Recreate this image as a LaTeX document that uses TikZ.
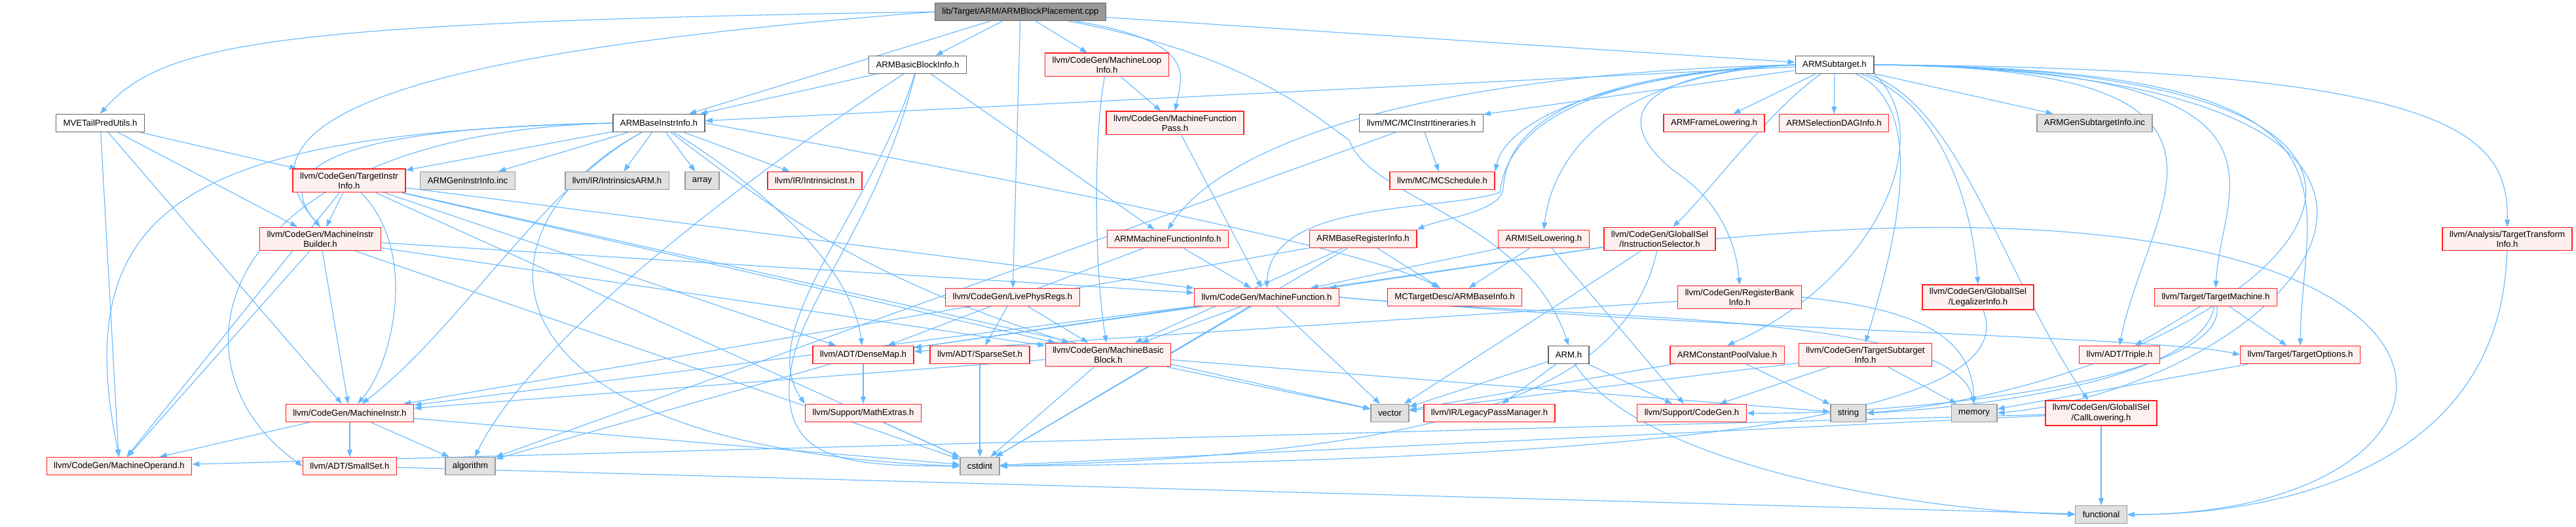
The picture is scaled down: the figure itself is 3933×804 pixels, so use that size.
\documentclass[tikz,border=0pt]{standalone}
\usepackage{fontspec}
\setmainfont{Liberation Sans}
\usepackage{xcolor}
\usepackage{tikz}
\usetikzlibrary{arrows.meta, backgrounds}
\definecolor{edgeblue}{HTML}{63B8FF}
\definecolor{rootfill}{HTML}{999999}
\definecolor{darkline}{HTML}{666666}
\definecolor{sysfill}{HTML}{E0E0E0}
\definecolor{sysline}{HTML}{999999}
\definecolor{redfill}{HTML}{FFF0F0}
\definecolor{redline}{HTML}{FF2020}
\tikzset{
    baseblock/.style={rectangle, align=center, font=\fontsize{13.2}{15.3}\selectfont, inner xsep=11pt, inner ysep=5.3pt, minimum height=27pt, line width=1.4pt},
    rootblock/.style={baseblock, draw=darkline, fill=rootfill},
    fileblock/.style={baseblock, draw=darkline, fill=white},
    redblock/.style={baseblock, draw=redline, fill=redfill},
    sysblock/.style={baseblock, draw=sysline, fill=sysfill},
    arrow/.style={line width=1.1pt, color=edgeblue, -{Triangle[length=11pt, width=8pt]}}
}

\begin{document}
\begin{tikzpicture}[x=1pt, y=1pt]
    \useasboundingbox (0,0) rectangle (3933,804);

    % row 1 and 2
    \node (placement) [rootblock] at (1558,786) {lib/Target/ARM/ARMBlockPlacement.cpp};
    \node (bbinfo) [fileblock] at (1401,705) {ARMBasicBlockInfo.h};
    \node (loopinfo) [redblock] at (1690,705) {llvm/CodeGen/MachineLoop\\Info.h};
    \node (subtarget) [fileblock] at (2801,705) {ARMSubtarget.h};

    % row 3
    \node (mveutils) [fileblock] at (153,616) {MVETailPredUtils.h};
    \node (baseinstr) [fileblock] at (1006,616) {ARMBaseInstrInfo.h};
    \node (mfpass) [redblock] at (1794,616) {llvm/CodeGen/MachineFunction\\Pass.h};
    \node (itin) [fileblock] at (2170,616) {llvm/MC/MCInstrItineraries.h};
    \node (framelow) [redblock] at (2617,616) {ARMFrameLowering.h};
    \node (seldag) [redblock] at (2800,616) {ARMSelectionDAGInfo.h};
    \node (gensub) [sysblock] at (3198,616) {ARMGenSubtargetInfo.inc};

    % row 4
    \node (tii) [redblock] at (533,528) {llvm/CodeGen/TargetInstr\\Info.h};
    \node (geninstr) [sysblock] at (714,528) {ARMGenInstrInfo.inc};
    \node (intrarm) [sysblock] at (942,528) {llvm/IR/IntrinsicsARM.h};
    \node (array) [sysblock] at (1072,528) {array};
    \node (intrinst) [redblock] at (1244,528) {llvm/IR/IntrinsicInst.h};
    \node (sched) [redblock] at (2202,528) {llvm/MC/MCSchedule.h};

    % row 5
    \node (mib) [redblock] at (489,439) {llvm/CodeGen/MachineInstr\\Builder.h};
    \node (mfi) [redblock] at (1783,439) {ARMMachineFunctionInfo.h};
    \node (bri) [redblock] at (2081,439) {ARMBaseRegisterInfo.h};
    \node (isel) [redblock] at (2357,439) {ARMISelLowering.h};
    \node (instsel) [redblock] at (2534,439) {llvm/CodeGen/GlobalISel\\/InstructionSelector.h};
    \node (tti) [redblock] at (3828,439) {llvm/Analysis/TargetTransform\\Info.h};

    % row 6
    \node (livephys) [redblock] at (1546,350) {llvm/CodeGen/LivePhysRegs.h};
    \node (mf) [redblock] at (1934,350) {llvm/CodeGen/MachineFunction.h};
    \node (basinfo) [redblock] at (2221,350) {MCTargetDesc/ARMBaseInfo.h};
    \node (rbi) [redblock] at (2656,350) {llvm/CodeGen/RegisterBank\\Info.h};
    \node (legal) [redblock] at (3020,350) {llvm/CodeGen/GlobalISel\\/LegalizerInfo.h};
    \node (tm) [redblock] at (3383,350) {llvm/Target/TargetMachine.h};

    % row 7
    \node (densemap) [redblock] at (1318,262) {llvm/ADT/DenseMap.h};
    \node (sparse) [redblock] at (1496,262) {llvm/ADT/SparseSet.h};
    \node (mbb) [redblock] at (1692,262) {llvm/CodeGen/MachineBasic\\Block.h};
    \node (armh) [fileblock] at (2395,262) {ARM.h};
    \node (cpv) [redblock] at (2637,262) {ARMConstantPoolValue.h};
    \node (tsi) [redblock] at (2848,262) {llvm/CodeGen/TargetSubtarget\\Info.h};
    \node (triple) [redblock] at (3236,262) {llvm/ADT/Triple.h};
    \node (topts) [redblock] at (3512,262) {llvm/Target/TargetOptions.h};

    % row 8
    \node (minstr) [redblock] at (534,173) {llvm/CodeGen/MachineInstr.h};
    \node (mathext) [redblock] at (1318,173) {llvm/Support/MathExtras.h};
    \node (vector) [sysblock] at (2122,173) {vector};
    \node (legacy) [redblock] at (2274,173) {llvm/IR/LegacyPassManager.h};
    \node (cgh) [redblock] at (2583,173) {llvm/Support/CodeGen.h};
    \node (string) [sysblock] at (2822,173) {string};
    \node (memory) [sysblock] at (3014,173) {memory};
    \node (calllow) [redblock] at (3208,173) {llvm/CodeGen/GlobalISel\\/CallLowering.h};

    % row 9 and 10
    \node (moperand) [redblock] at (182,92) {llvm/CodeGen/MachineOperand.h};
    \node (smallset) [redblock] at (534,92) {llvm/ADT/SmallSet.h};
    \node (algorithm) [sysblock] at (718,92) {algorithm};
    \node (cstdint) [sysblock] at (1496,92) {cstdint};
    \node (functional) [sysblock] at (3208,18) {functional};

    \begin{scope}[on background layer]
    \fill [white] (0,0) rectangle (3933,804);

    % ARMBlockPlacement.cpp
    \draw [arrow] (placement.west) .. controls (420,770) and (250,740) .. (mveutils.north);
    \draw [arrow] (placement) -- (baseinstr);
    \draw [arrow] (placement) -- (bbinfo);
    \draw [arrow] (placement) -- (loopinfo);
    \draw [arrow] (placement) .. controls (1830,740) and (1805,690) .. (mfpass.north);
    \draw [arrow] (placement) -- (subtarget);
    \draw [arrow] (placement) .. controls (1900,720) and (1990,640) .. (2060,590) .. controls (2090,500) and (2330,470) .. (armh.north);
    \draw [arrow] (placement) -- (livephys);
    \draw [arrow] (placement.west) .. controls (700,730) and (330,640) .. (mib.north);

    % MVETailPredUtils.h
    \draw [arrow] (mveutils) -- (tii);
    \draw [arrow] (mveutils) -- (mib);
    \draw [arrow] (mveutils) -- (minstr);
    \draw [arrow] (mveutils) -- (moperand);

    % ARMBaseInstrInfo.h
    \draw [arrow] (baseinstr) -- (tii);
    \draw [arrow] (baseinstr) -- (geninstr);
    \draw [arrow] (baseinstr) -- (intrarm);
    \draw [arrow] (baseinstr) -- (array);
    \draw [arrow] (baseinstr) -- (intrinst);
    \draw [arrow] (baseinstr.west) .. controls (560,610) and (400,560) .. (mib.north);
    \draw [arrow] (baseinstr) .. controls (830,520) and (700,300) .. (minstr);
    \draw [arrow] (baseinstr.west) .. controls (300,600) and (100,500) .. (moperand.north);
    \draw [arrow] (baseinstr.west) .. controls (330,600) and (240,250) .. (smallset.west);
    \draw [arrow] (baseinstr) .. controls (1160,520) and (1300,400) .. (densemap);
    \draw [arrow] (baseinstr) to[bend right=10] (mbb);
    \draw [arrow] (baseinstr.east) .. controls (1600,520) and (2100,420) .. (basinfo);
    \draw [arrow] (baseinstr) .. controls (700,450) and (720,120) .. (cstdint.west);

    % ARMBasicBlockInfo.h
    \draw [arrow] (bbinfo) -- (baseinstr);
    \draw [arrow] (bbinfo) -- (mfi);
    \draw [arrow] (bbinfo) .. controls (1330,480) and (1150,300) .. (mathext.north west);
    \draw [arrow] (bbinfo) .. controls (1180,560) and (820,300) .. (algorithm);
    \draw [arrow] (bbinfo) .. controls (1330,430) and (1200,330) .. (1205,200) .. controls (1210,100) and (1300,92) .. (cstdint.west);

    % MachineLoopInfo.h, MachineFunctionPass.h
    \draw [arrow] (loopinfo) -- (mfpass);
    \draw [arrow] (loopinfo) .. controls (1670,600) and (1670,400) .. (mbb);
    \draw [arrow] (mfpass) -- (mf);

    % ARMSubtarget.h
    \draw [arrow] (subtarget) -- (baseinstr);
    \draw [arrow] (subtarget.west) .. controls (2380,690) and (2300,600) .. (2295,515) .. controls (2290,480) and (2200,470) .. (bri.north east);
    \draw [arrow] (subtarget.south east) .. controls (2960,600) and (2870,380) .. (cpv.north);
    \draw [arrow] (subtarget) -- (framelow);
    \draw [arrow] (subtarget.west) .. controls (2450,690) and (2370,560) .. (isel.north);
    \draw [arrow] (subtarget.west) .. controls (2100,690) and (1850,560) .. (mfi.north);
    \draw [arrow] (subtarget) -- (seldag);
    \draw [arrow] (subtarget.east) .. controls (3750,700) and (3830,600) .. (tti.north);
    \draw [arrow] (subtarget) .. controls (2990,650) and (3060,380) .. (calllow.135);
    \draw [arrow] (subtarget) .. controls (2705,640) and (2600,500) .. (instsel);
    \draw [arrow] (subtarget) .. controls (2960,650) and (3010,500) .. (legal.north);
    \draw [arrow] (subtarget.west) .. controls (2400,690) and (2300,600) .. (2290,510) .. controls (2200,480) and (1940,500) .. (mf.north);
    \draw [arrow] (subtarget.west) .. controls (2450,690) and (2480,600) .. (2560,540) .. controls (2620,500) and (2650,440) .. (rbi.north);
    \draw [arrow] (subtarget) .. controls (2950,640) and (2890,420) .. (tsi.north);
    \draw [arrow] (subtarget) -- (itin);
    \draw [arrow] (subtarget.west) .. controls (2450,690) and (2300,620) .. (sched.north east);
    \draw [arrow] (subtarget.east) .. controls (3550,700) and (3390,520) .. (tm.north);
    \draw [arrow] (subtarget.east) .. controls (3650,700) and (3515,520) .. (topts.north);
    \draw [arrow] (subtarget.east) .. controls (3500,700) and (3280,500) .. (triple.north);
    \draw [arrow] (subtarget.east) .. controls (3950,690) and (3500,215) .. (memory.east);
    \draw [arrow] (subtarget.east) .. controls (3990,700) and (3450,225) .. (string.east);
    \draw [arrow] (subtarget) -- (gensub);

    % MCInstrItineraries.h
    \draw [arrow] (itin) -- (sched);
    \draw [arrow] (itin) -- (algorithm);

    % TargetInstrInfo.h
    \draw [arrow] (tii) -- (mib);
    \draw [arrow] (tii) .. controls (640,420) and (600,250) .. (minstr);
    \draw [arrow] (tii) -- (moperand);
    \draw [arrow] (tii) -- (densemap);
    \draw [arrow] (tii) -- (mbb);
    \draw [arrow] (tii) -- (mf);
    \draw [arrow] (tii) -- (cstdint);
    \draw [arrow] (tii) -- (vector);

    % MachineInstrBuilder.h
    \draw [arrow] (mib) -- (mbb);
    \draw [arrow] (mib) -- (mf);
    \draw [arrow] (mib) -- (minstr);
    \draw [arrow] (mib) -- (moperand);
    \draw [arrow] (mib) -- (cstdint);

    % ARMMachineFunctionInfo.h, ARMBaseRegisterInfo.h, ARMISelLowering.h
    \draw [arrow] (mfi) -- (densemap);
    \draw [arrow] (mfi) -- (mf);
    \draw [arrow] (bri) -- (basinfo);
    \draw [arrow] (bri) -- (mbb);
    \draw [arrow] (bri) -- (minstr);
    \draw [arrow] (bri) -- (cstdint);
    \draw [arrow] (isel) -- (basinfo);
    \draw [arrow] (isel) -- (mf);
    \draw [arrow] (isel) -- (cgh);

    % InstructionSelector.h, TargetTransformInfo.h
    \draw [arrow] (instsel) -- (densemap);
    \draw [arrow] (instsel) -- (mf);
    \draw [arrow] (instsel) .. controls (2480,200) and (2200,110) .. (cstdint.east);
    \draw [arrow] (instsel.east) .. controls (3900,560) and (3850,18) .. (functional.east);
    \draw [arrow] (instsel) -- (vector);
    \draw [arrow] (tti) .. controls (3820,100) and (3500,18) .. (functional.east);

    % LivePhysRegs.h, MachineFunction.h
    \draw [arrow] (livephys) -- (mbb);
    \draw [arrow] (livephys) -- (sparse);
    \draw [arrow] (mf) -- (densemap);
    \draw [arrow] (mf) -- (mbb);
    \draw [arrow] (mf) -- (minstr);
    \draw [arrow] (mf.east) .. controls (2600,300) and (3300,290) .. (topts.west);
    \draw [arrow] (mf) -- (cstdint);
    \draw [arrow] (mf.east) .. controls (2400,315) and (2980,330) .. (memory.north);
    \draw [arrow] (mf) -- (vector);

    % RegisterBankInfo.h, LegalizerInfo.h, TargetMachine.h, TargetOptions.h
    \draw [arrow] (rbi) -- (densemap);
    \draw [arrow] (rbi.east) .. controls (2950,330) and (3010,280) .. (memory.north);
    \draw [arrow] (legal) .. controls (3100,150) and (2400,100) .. (cstdint.east);
    \draw [arrow] (tm) -- (triple);
    \draw [arrow] (tm) -- (topts);
    \draw [arrow] (tm) .. controls (3400,220) and (2900,170) .. (cgh.east);
    \draw [arrow] (tm) .. controls (3360,220) and (3000,180) .. (string.east);
    \draw [arrow] (topts) -- (memory);

    % ARMConstantPoolValue.h, TargetSubtargetInfo.h, ARM.h
    \draw [arrow] (cpv) -- (vector);
    \draw [arrow] (cpv) -- (string);
    \draw [arrow] (tsi) -- (cgh);
    \draw [arrow] (tsi) -- (memory);
    \draw [arrow] (tsi) -- (vector);
    \draw [arrow] (armh) -- (legacy);
    \draw [arrow] (armh) -- (cgh);
    \draw [arrow] (armh) .. controls (2500,100) and (2900,25) .. (functional.west);
    \draw [arrow] (armh) -- (vector);

    % CallLowering.h
    \draw [arrow] (calllow) -- (moperand);
    \draw [arrow] (calllow) -- (cstdint);
    \draw [arrow] (calllow) -- (functional);

    % MachineInstr.h, MachineBasicBlock.h
    \draw [arrow] (minstr) -- (moperand);
    \draw [arrow] (minstr) -- (smallset);
    \draw [arrow] (minstr) -- (algorithm);
    \draw [arrow] (minstr) -- (cstdint);
    \draw [arrow] (mbb) -- (minstr);
    \draw [arrow] (mbb) -- (cstdint);
    \draw [arrow] (mbb) -- (string);
    \draw [arrow] (mbb) -- (vector);

    % ADT and Support headers
    \draw [arrow] (densemap) -- (algorithm);
    \draw [arrow] (densemap) -- (mathext);
    \draw [arrow] (mathext) -- (cstdint);
    \draw [arrow] (sparse) -- (cstdint);
    \draw [arrow] (smallset) -- (functional);
    \end{scope}
\end{tikzpicture}
\end{document}
